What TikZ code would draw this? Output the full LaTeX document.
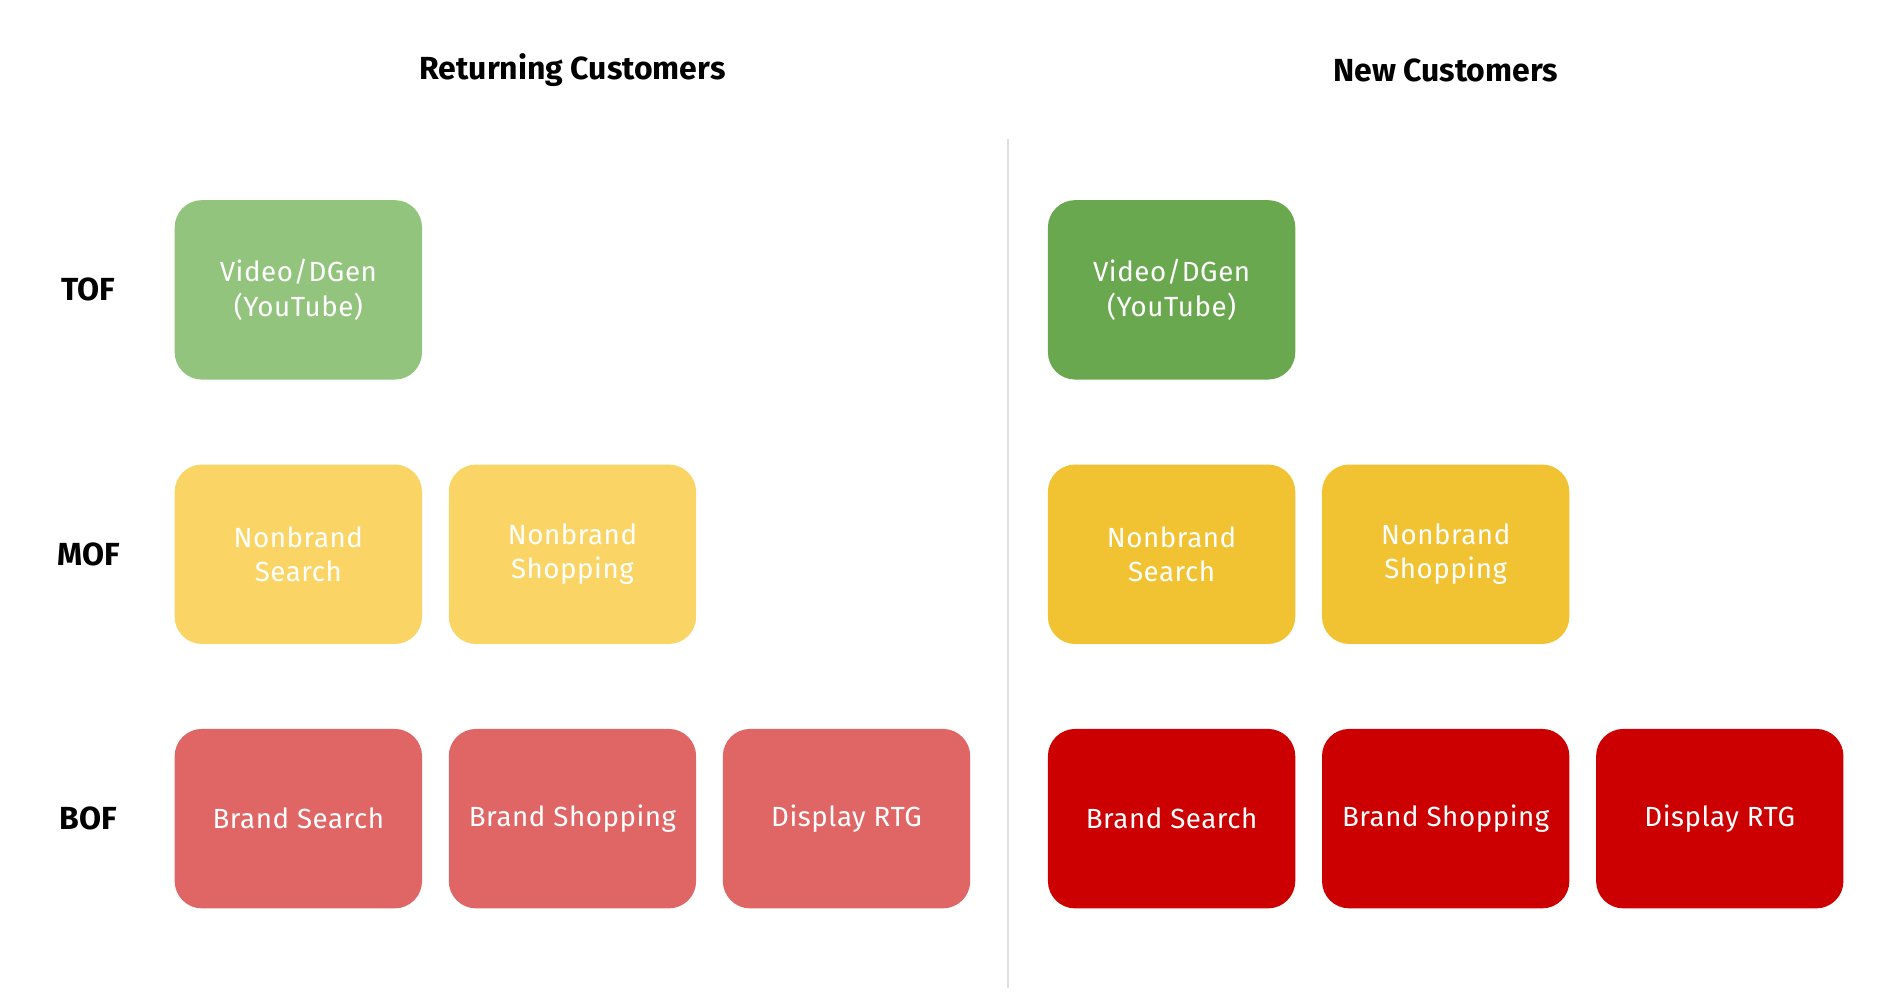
\documentclass[tikz,border=0pt]{standalone}
\usepackage{fontspec}
\setmainfont{Fira Sans}
\usetikzlibrary{positioning}
\definecolor{tofA}{HTML}{93C47D}
\definecolor{tofB}{HTML}{6AA84F}
\definecolor{mofA}{HTML}{FAD566}
\definecolor{mofB}{HTML}{F1C232}
\definecolor{bofA}{HTML}{E06666}
\definecolor{bofB}{HTML}{CC0000}
\begin{document}
\begin{tikzpicture}[x=0.02cm, y=-0.02cm,
  box/.style={rounded corners=0.45cm, minimum width=4.08cm, minimum height=2.96cm,
    text=white, align=center, font=\fontsize{13}{16}\selectfont\addfontfeature{LetterSpace=2}},
  stage/.style={font=\fontsize{15}{18}\selectfont\bfseries},
  title/.style={font=\fontsize{15}{18}\selectfont\bfseries}]
\useasboundingbox (0,0) rectangle (1560,820);
% 1. titles and divider
\node[title] (tret) at (472,58) {Returning Customers};
\node[title] (tnew) at (1192,58) {New Customers};
\coordinate (dtop) at (831,115);
\coordinate (dbot) at (831,815);
\draw[black!12, line width=1pt] (dtop) -- (dbot);
% 2. stage labels
\foreach \s/\y in {TOF/239, MOF/457, BOF/675}
  \node[stage] (l-\s) at (73,\y) {\s};
% 3. returning customers
\node[box, fill=tofA] (r-tof) at (246,239) {Video/DGen\\(YouTube)};
\node[box, fill=mofA] (r-mof1) at (246,457) {Nonbrand\\Search};
\node[box, fill=mofA] (r-mof2) at (472,457) {Nonbrand\\Shopping};
\node[box, fill=bofA] (r-bof1) at (246,675) {Brand Search};
\node[box, fill=bofA] (r-bof2) at (472,675) {Brand Shopping};
\node[box, fill=bofA] (r-bof3) at (698,675) {Display RTG};
% 4. new customers
\node[box, fill=tofB] (n-tof) at (966,239) {Video/DGen\\(YouTube)};
\node[box, fill=mofB] (n-mof1) at (966,457) {Nonbrand\\Search};
\node[box, fill=mofB] (n-mof2) at (1192,457) {Nonbrand\\Shopping};
\node[box, fill=bofB] (n-bof1) at (966,675) {Brand Search};
\node[box, fill=bofB] (n-bof2) at (1192,675) {Brand Shopping};
\node[box, fill=bofB] (n-bof3) at (1418,675) {Display RTG};
\end{tikzpicture}
\end{document}
